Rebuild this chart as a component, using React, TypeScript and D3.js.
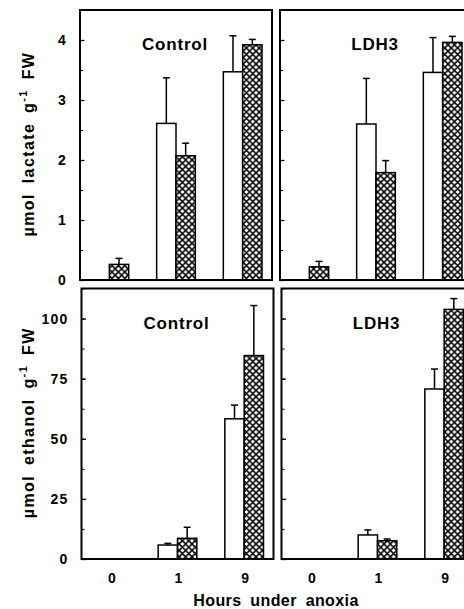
import { useEffect, useRef } from 'react'
import * as d3 from 'd3'

// hours under anoxia
const hours = ['0', '1', '9']

// lactate (µmol g-1 FW), open and cross-hatched bars, with upper error
const lactateControlOpen = [0, 2.61, 3.47]
const lactateControlOpenErr = [0, 0.76, 0.6]
const lactateControlHatched = [0.26, 2.07, 3.92]
const lactateControlHatchedErr = [0.1, 0.21, 0.09]
const lactateLdh3Open = [0, 2.6, 3.46]
const lactateLdh3OpenErr = [0, 0.76, 0.58]
const lactateLdh3Hatched = [0.22, 1.79, 3.96]
const lactateLdh3HatchedErr = [0.09, 0.2, 0.1]

// ethanol (µmol g-1 FW)
const ethanolControlOpen = [0, 5.8, 58.3]
const ethanolControlOpenErr = [0, 0.7, 5.7]
const ethanolControlHatched = [0, 8.6, 84.6]
const ethanolControlHatchedErr = [0, 4.6, 20.8]
const ethanolLdh3Open = [0, 10, 70.7]
const ethanolLdh3OpenErr = [0, 2.1, 8.3]
const ethanolLdh3Hatched = [0, 7.6, 103.8]
const ethanolLdh3HatchedErr = [0, 0.7, 4.5]

const lactateTicks = [0, 1, 2, 3, 4]
const ethanolTicks = [0, 25, 50, 75, 100]
const panelTitles = ['Control', 'LDH3']

const FONT = '"Liberation Sans", Arial, Helvetica, sans-serif'

export default function App() {
  const ref = useRef(null)

  useEffect(() => {
    const svg = d3.select(ref.current)
    svg.selectAll('*').remove()

    // cross-hatch fill
    const defs = svg.append('defs')
    const pat = defs.append('pattern')
      .attr('id', 'xhatch')
      .attr('patternUnits', 'userSpaceOnUse')
      .attr('width', 6.4).attr('height', 6.4)
    pat.append('rect').attr('width', 6.4).attr('height', 6.4).attr('fill', '#fff')
    pat.append('path')
      .attr('d', 'M0,0L6.4,6.4M6.4,0L0,6.4M-1,5.4L1,7.4M5.4,-1L7.4,1')
      .attr('stroke', '#000').attr('stroke-width', 1.5)

    const panelW = 192
    const rows = [
      {
        top: 10, bottom: 280, shift: 0, max: 4.5, ticks: lactateTicks, minor: d3.range(0, 4.51, 0.5),
        panels: [
          { open: lactateControlOpen, openErr: lactateControlOpenErr, hatched: lactateControlHatched, hatchedErr: lactateControlHatchedErr },
          { open: lactateLdh3Open, openErr: lactateLdh3OpenErr, hatched: lactateLdh3Hatched, hatchedErr: lactateLdh3HatchedErr },
        ],
      },
      {
        top: 288.5, bottom: 559, shift: 1.5, max: 112.5, ticks: ethanolTicks, minor: d3.range(0, 112.6, 12.5),
        panels: [
          { open: ethanolControlOpen, openErr: ethanolControlOpenErr, hatched: ethanolControlHatched, hatchedErr: ethanolControlHatchedErr },
          { open: ethanolLdh3Open, openErr: ethanolLdh3OpenErr, hatched: ethanolLdh3Hatched, hatchedErr: ethanolLdh3HatchedErr },
        ],
      },
    ]
    const colStarts = [80, 280]

    rows.forEach((row, ri) => {
      const y = d3.scaleLinear().domain([0, row.max]).range([row.bottom, row.top])

      row.panels.forEach((p, pi) => {
        const x0 = colStarts[pi] + row.shift
        const x = d3.scaleBand().domain(hours).range([x0, x0 + panelW]).paddingInner(0.42).paddingOuter(0.15)
        const xs = d3.scaleBand().domain(['open', 'hatched']).range([0, x.bandwidth()])
        const g = svg.append('g')

        const bars = [
          { key: 'open', vals: p.open, errs: p.openErr, fill: '#fff' },
          { key: 'hatched', vals: p.hatched, errs: p.hatchedErr, fill: 'url(#xhatch)' },
        ]
        bars.forEach(s => {
          hours.forEach((h, i) => {
            const v = s.vals[i]
            if (v <= 0) return
            const bx = x(h) + xs(s.key)
            const cx = bx + xs.bandwidth() / 2
            g.append('rect')
              .attr('x', bx).attr('y', y(v))
              .attr('width', xs.bandwidth()).attr('height', y(0) - y(v))
              .attr('fill', s.fill).attr('stroke', '#000').attr('stroke-width', 1.5)
            const e = s.errs[i]
            if (e > 0) {
              g.append('line')
                .attr('x1', cx).attr('x2', cx).attr('y1', y(v)).attr('y2', y(v + e))
                .attr('stroke', '#000').attr('stroke-width', 1.5)
              g.append('line')
                .attr('x1', cx - 3.5).attr('x2', cx + 3.5).attr('y1', y(v + e)).attr('y2', y(v + e))
                .attr('stroke', '#000').attr('stroke-width', 1.5)
            }
          })
        })

        // frame
        g.append('rect')
          .attr('x', x0).attr('y', row.top)
          .attr('width', panelW).attr('height', row.bottom - row.top)
          .attr('fill', 'none').attr('stroke', '#000').attr('stroke-width', 2)

        // minor ticks (inward)
        g.append('g')
          .attr('transform', `translate(${x0},0)`)
          .call(d3.axisLeft(y).tickValues(row.minor).tickSize(-3).tickFormat(() => ''))
          .call(a => a.select('.domain').remove())
          .call(a => a.selectAll('line').attr('stroke-width', 1))

        // major ticks, labels only on left column
        const major = d3.axisLeft(y).tickValues(row.ticks).tickSize(-4.5).tickPadding(13)
          .tickFormat(pi === 0 ? (d => String(d)) : () => '')
        g.append('g')
          .attr('transform', `translate(${x0},0)`)
          .call(major)
          .call(a => a.select('.domain').remove())
          .call(a => a.selectAll('line').attr('stroke-width', 1.3))
          .call(a => a.selectAll('text')
            .style('font-family', FONT).style('font-weight', 700)
            .style('font-size', '14px').style('letter-spacing', '1.2px').attr('fill', '#000'))

        // x labels on bottom row
        if (ri === 1) {
          g.append('g')
            .attr('transform', `translate(1,${row.bottom})`)
            .call(d3.axisBottom(x).tickSize(0).tickPadding(14))
            .call(a => a.select('.domain').remove())
            .call(a => a.selectAll('text')
              .style('font-family', FONT).style('font-weight', 700)
              .style('font-size', '14px').attr('fill', '#000'))
        }

        // panel title
        g.append('text')
          .attr('x', x0 + 95).attr('y', row.top + 40)
          .attr('text-anchor', 'middle')
          .style('font-family', FONT).style('font-weight', 700)
          .style('font-size', '17px').style('letter-spacing', '0.8px')
          .text(panelTitles[pi])
      })

      // y-axis title
      const label = svg.append('text')
        .attr('transform', `translate(34,${(row.top + row.bottom) / 2 - 1}) rotate(-90)`)
        .attr('text-anchor', 'middle')
        .style('font-family', FONT).style('font-weight', 700)
        .style('font-size', '16px').style('letter-spacing', '1.4px').style('word-spacing', '4px')
      label.append('tspan').text(ri === 0 ? 'µmol lactate g' : 'µmol ethanol g')
      label.append('tspan').attr('dy', -7).style('font-size', '11px').text('-1')
      label.append('tspan').attr('dy', 7).text(' FW')
    })

    svg.append('text')
      .attr('x', 276).attr('y', 606)
      .attr('text-anchor', 'middle')
      .style('font-family', FONT).style('font-weight', 700)
      .style('font-size', '16px').style('letter-spacing', '0.4px').style('word-spacing', '4px')
      .text('Hours under anoxia')
  }, [])

  return (
    <svg
      ref={ref}
      width={464}
      height={609}
      style={{ position: 'absolute', left: 0, top: 0, background: '#fff' }}
    />
  )
}
